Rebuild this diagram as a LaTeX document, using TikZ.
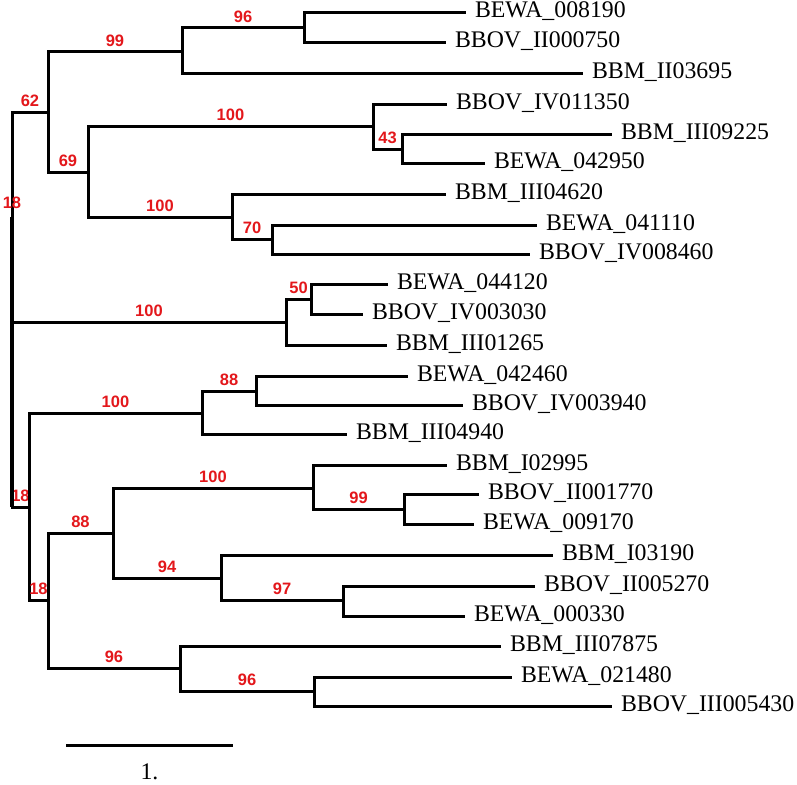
\documentclass[tikz,border=0pt]{standalone}
\usepackage{fontspec}
\setmainfont{Liberation Serif}
\newfontfamily\supportfont{Liberation Sans}
\usepackage{tikz}
\definecolor{SupportRed}{HTML}{E3171B}

\begin{document}
\begin{tikzpicture}[x=1pt,y=-1pt,line width=3pt,
  leaf/.style={anchor=west,inner xsep=7.5pt,text height=14pt,text depth=4pt,
    font=\fontsize{23.8}{26}\selectfont},
  boot/.style={above=4pt,inner sep=0pt,text=SupportRed,
    font=\supportfont\bfseries\fontsize{16.5}{18}\selectfont}]
  \useasboundingbox (0,0) rectangle (797,784);
  % internal nodes
  \coordinate (root) at (12,310);
  \coordinate (n62) at (48,112);
  \coordinate (n99a) at (182,52);
  \coordinate (n96a) at (304,28);
  \coordinate (n69) at (88,172);
  \coordinate (n100a) at (373,126);
  \coordinate (n43) at (402,149);
  \coordinate (n100e) at (232,217);
  \coordinate (n70) at (272,239);
  \coordinate (n100b) at (286,322);
  \coordinate (n50) at (311,299);
  \coordinate (n18a) at (29,507);
  \coordinate (n100c) at (202,413);
  \coordinate (n88a) at (256,391);
  \coordinate (n18b) at (48,600);
  \coordinate (n88b) at (113,533);
  \coordinate (n100d) at (313,488);
  \coordinate (n99b) at (404,509);
  \coordinate (n94) at (221,578);
  \coordinate (n97) at (343,600);
  \coordinate (n96c) at (180,668);
  \coordinate (n96d) at (314,691);
  % leaves
  \foreach \n/\x/\y/\lab in {
    l1/466/13/BEWA\_008190, l2/446/43/BBOV\_II000750, l3/583/73/BBM\_II03695,
    l4/447/104/BBOV\_IV011350, l5/612/134/BBM\_III09225, l6/485/163/BEWA\_042950,
    l7/446/194/BBM\_III04620, l8/537/225/BEWA\_041110, l9/530/254/BBOV\_IV008460,
    l10/388/284/BEWA\_044120, l11/363/314/BBOV\_IV003030, l12/387/345/BBM\_III01265,
    l13/408/376/BEWA\_042460, l14/463/405/BBOV\_IV003940, l15/347/434/BBM\_III04940,
    l16/447/465/BBM\_I02995, l17/479/494/BBOV\_II001770, l18/474/524/BEWA\_009170,
    l19/553/555/BBM\_I03190, l20/535/586/BBOV\_II005270, l21/465/616/BEWA\_000330,
    l22/501/646/BBM\_III07875, l23/512/677/BEWA\_021480, l24/612/706/BBOV\_III005430}
    \node[leaf] (\n) at (\x,\y) {\lab};
  % branches with support values
  \foreach \a/\b/\s in {root/n62/62, n62/n99a/99, n99a/n96a/96, n62/n69/69,
    n69/n100a/100, n100a/n43/43, n69/n100e/100, n100e/n70/70,
    root/n100b/100, n100b/n50/50, root/n18a/18, n18a/n100c/100,
    n100c/n88a/88, n18a/n18b/18, n18b/n88b/88, n88b/n100d/100,
    n100d/n99b/99, n88b/n94/94, n94/n97/97, n18b/n96c/96, n96c/n96d/96}
    \draw (\a) |- node[boot,pos=0.75] {\s} (\b);
  % terminal branches
  \foreach \a/\b in {n96a/l1, n96a/l2, n99a/l3, n100a/l4, n43/l5, n43/l6,
    n100e/l7, n70/l8, n70/l9, n50/l10, n50/l11, n100b/l12, n88a/l13, n88a/l14,
    n100c/l15, n100d/l16, n99b/l17, n99b/l18, n94/l19, n97/l20, n97/l21,
    n96c/l22, n96d/l23, n96d/l24}
    \draw (\a) |- (\b.west);
  % heavier stem of the root
  \coordinate (stemtop) at (12,217);
  \draw[line width=4.4pt] (stemtop) -- (stemtop |- n18a);
  \node[boot,above=0pt,anchor=center] (rootsup) at (12,207) {18};
  % scale bar
  \coordinate (barL) at (66,745);
  \coordinate (barR) at (233,745);
  \draw (barL) -- (barR) node[midway,below=17pt,inner sep=0pt,
    font=\fontsize{23.8}{26}\selectfont] (barlab) {1.};
\end{tikzpicture}
\end{document}
